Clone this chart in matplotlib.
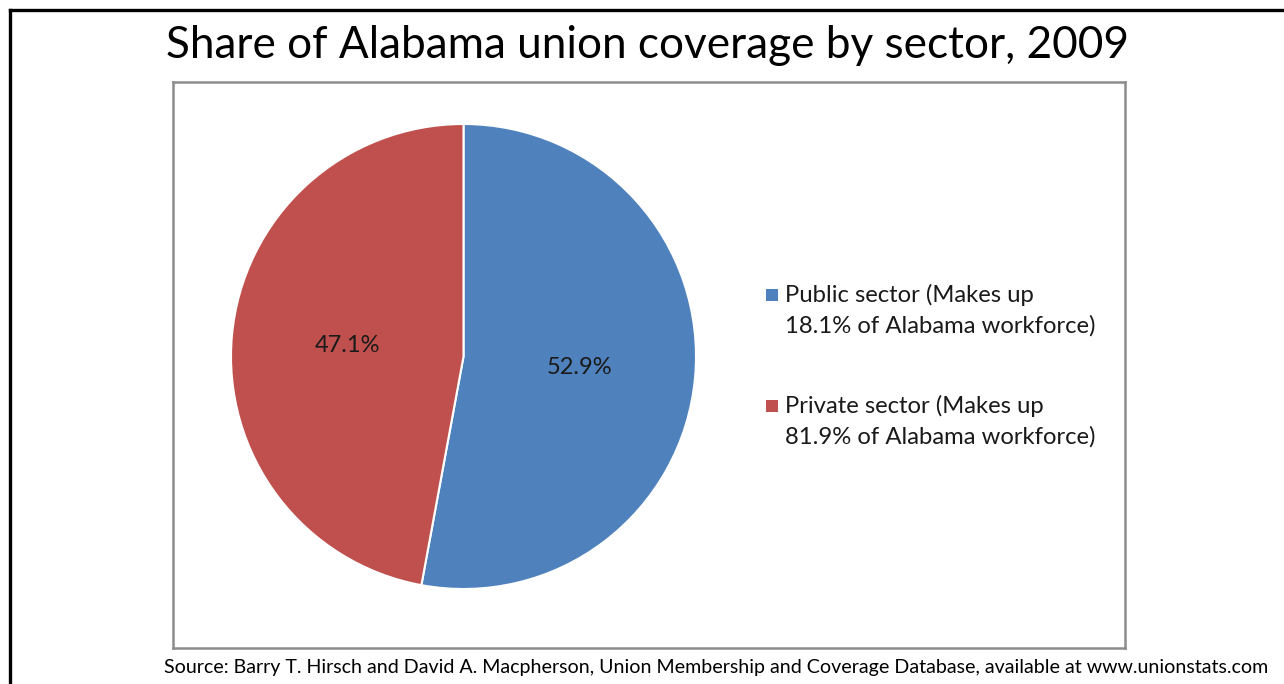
import matplotlib
matplotlib.use("Agg")
import matplotlib.pyplot as plt
from matplotlib.patches import Rectangle
from matplotlib.lines import Line2D

title = "Share of Alabama union coverage by sector, 2009"
sectors = ["Public sector", "Private sector"]
coverage_share = [52.9, 47.1]
workforce_share = [18.1, 81.9]
colors = ["#4F81BD", "#C0504D"]
source = ("Source: Barry T. Hirsch and David A. Macpherson, Union Membership and "
          "Coverage Database, available at www.unionstats.com")

W, H = 1284, 684
plt.rcParams['font.family'] = ['Lato', 'DejaVu Sans']
fig = plt.figure(figsize=(W / 100, H / 100), dpi=100)

def px(x0, y0, x1, y1):
    # pixel box (top-left origin) -> figure fraction rect
    return [x0 / W, 1 - y1 / H, (x1 - x0) / W, (y1 - y0) / H]

# outer black border (left and top visible)
fig.add_artist(Line2D([10.5 / W, 10.5 / W], [0, 1 - 10 / H], color="black", lw=2.4,
                      transform=fig.transFigure, solid_capstyle="projecting"))
fig.add_artist(Line2D([10.5 / W, 1], [1 - 10 / H, 1 - 10 / H], color="black", lw=2.4,
                      transform=fig.transFigure, solid_capstyle="projecting"))

# plot area box
box = fig.add_axes(px(173, 82, 1125, 648))
box.set_xticks([]); box.set_yticks([])
for s in box.spines.values():
    s.set_color("#8C8C8C"); s.set_linewidth(1.8)
box.patch.set_alpha(0)

# pie
cx, cy, r = 463.5, 356.5, 232.5
ax = fig.add_axes(px(cx - r, cy - r, cx + r, cy + r))
wedges, texts, autotexts = ax.pie(
    coverage_share, colors=colors, startangle=90, counterclock=False,
    autopct="%.1f%%", pctdistance=0.5, radius=1.0,
    wedgeprops=dict(edgecolor="white", linewidth=1.5),
    textprops=dict(fontsize=17, color="#1a1a1a"))
ax.set_xlim(-1, 1); ax.set_ylim(-1, 1)
ax.set_aspect("equal")
ax.axis("off")

# title and source
fig.text(648 / W, 1 - 45 / H, title, ha="center", va="center", fontsize=31.8, color="black")
fig.text(716 / W, 1 - 668 / H, source, ha="center", va="center", fontsize=14.1, color="black")

# legend (manual)
leg_y = [295, 406]
for i, (lab, ws, col) in enumerate(zip(sectors, workforce_share, colors)):
    y = leg_y[i]
    fig.add_artist(Rectangle(((766) / W, 1 - (y + 6) / H), 12 / W, 12 / H,
                             facecolor=col, edgecolor="none", transform=fig.transFigure))
    fig.text(785 / W, 1 - y / H, f"{lab} (Makes up", ha="left", va="center",
             fontsize=17.2, color="#1a1a1a")
    fig.text(785 / W, 1 - (y + 31) / H, f"{ws:.1f}% of Alabama workforce)", ha="left",
             va="center", fontsize=17.2, color="#1a1a1a")

fig.savefig("out.png", dpi=100)
